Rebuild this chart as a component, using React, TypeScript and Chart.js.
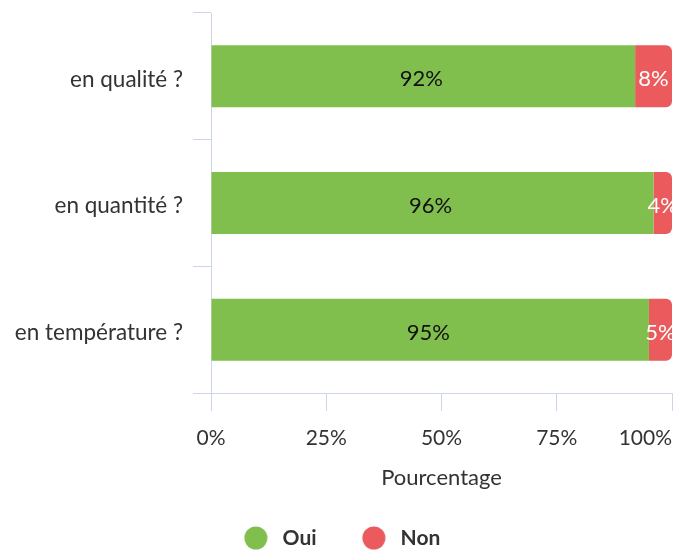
import { useEffect, useRef } from "react";
import { Chart, registerables } from "chart.js";

Chart.register(...registerables);

const categories = ["en qualité ?", "en quantité ?", "en température ?"];
const seriesNames = ["Oui", "Non"];
const ouiValues = [92, 96, 95];
const nonValues = [8, 4, 5];
const xTickValues = [0, 25, 50, 75, 100];
const axisTitle = "Pourcentage";

const FONT = "Lato, 'Open Sans', sans-serif";
const TEXT = "#333333";
const GRID = "#ccd6eb";
const GREEN = "#80bf4d";
const RED = "#eb5a5c";
const seriesColors = [GREEN, RED];

function makeMarker(color: string) {
  const c = document.createElement("canvas");
  c.width = 32;
  c.height = 24;
  const g = c.getContext("2d") as CanvasRenderingContext2D;
  g.fillStyle = color;
  g.beginPath();
  g.arc(20, 12, 11.5, 0, Math.PI * 2);
  g.fill();
  return c;
}

const dataLabelsPlugin = {
  id: "dataLabels",
  afterDatasetsDraw(chart: any) {
    const ctx = chart.ctx;
    ctx.save();
    ctx.font = `22px ${FONT}`;
    ctx.textAlign = "center";
    ctx.textBaseline = "middle";
    chart.data.datasets.forEach((ds: any, i: number) => {
      const meta = chart.getDatasetMeta(i);
      if (meta.hidden) return;
      meta.data.forEach((el: any, j: number) => {
        const { x, y, base } = el.getProps(["x", "y", "base"], true);
        ctx.fillStyle = i === 0 ? "#111111" : "#ffffff";
        ctx.fillText(ds.data[j] + "%", (x + base) / 2 - (i === 0 ? 2 : 0), y + 3);
      });
    });
    ctx.restore();
  },
};

const xTickLabelsPlugin = {
  id: "xTickLabels",
  afterDraw(chart: any) {
    const scale = chart.scales.x;
    const ctx = chart.ctx;
    ctx.save();
    ctx.font = `21px ${FONT}`;
    ctx.fillStyle = TEXT;
    ctx.textAlign = "left";
    ctx.textBaseline = "middle";
    xTickValues.forEach((v) => {
      const label = v + "%";
      const w = ctx.measureText(label).width;
      let left = scale.getPixelForValue(v) - w / 2;
      left = Math.min(left, chart.chartArea.right - w);
      left = Math.max(left, 0);
      ctx.fillText(label, left, scale.top + 45);
    });
    ctx.restore();
  },
};

function ChartView() {
  const ref = useRef<HTMLCanvasElement | null>(null);
  useEffect(() => {
    document.body.style.margin = "0";
    const markers = seriesColors.map(makeMarker);
    const chart = new Chart(ref.current as HTMLCanvasElement, {
      type: "bar",
      data: {
        labels: categories,
        datasets: [
          {
            label: seriesNames[0],
            data: ouiValues,
            backgroundColor: GREEN,
            borderWidth: 0,
            borderRadius: 0,
            barPercentage: 0.49,
            categoryPercentage: 1,
          },
          {
            label: seriesNames[1],
            data: nonValues,
            backgroundColor: RED,
            borderWidth: 0,
            borderRadius: { topLeft: 0, bottomLeft: 0, topRight: 6, bottomRight: 6 },
            borderSkipped: false,
            barPercentage: 0.49,
            categoryPercentage: 1,
          },
        ],
      },
      options: {
        indexAxis: "y",
        animation: false,
        responsive: false,
        layout: { padding: { top: 13, right: 4, left: 0, bottom: 0 } },
        scales: {
          x: {
            stacked: true,
            min: 0,
            max: 100,
            afterFit: (s: any) => {
              s.paddingRight = 4;
              s.paddingLeft = 0;
              s.height = 101.5;
            },
            afterBuildTicks: (s: any) => {
              s.ticks = xTickValues.map((v) => ({ value: v }));
            },
            ticks: {
              color: "transparent",
              padding: 14,
              font: { family: FONT, size: 21 },
              callback: (v: any) => v + "%",
            },
            grid: {
              drawOnChartArea: false,
              color: GRID,
              tickLength: 18,
              lineWidth: 1,
            },
            border: { display: true, color: GRID },
            title: {
              display: true,
              text: axisTitle,
              color: TEXT,
              font: { family: FONT, size: 22, lineHeight: 1 },
              padding: { top: 0, bottom: 5.5 },
            },
          },
          y: {
            stacked: true,
            afterFit: (s: any) => {
              s.width = 211;
              s.paddingTop = 0;
              s.paddingBottom = 0;
            },
            ticks: {
              color: TEXT,
              padding: 10,
              labelOffset: 3,
              font: { family: FONT, size: 22.5 },
            },
            grid: {
              drawOnChartArea: false,
              color: GRID,
              tickLength: 18,
              offset: true,
            },
            border: { display: true, color: GRID },
          },
        },
        plugins: {
          legend: {
            position: "bottom",
            maxHeight: 56.5,
            labels: {
              usePointStyle: true,
              boxHeight: 16,
              pointStyleWidth: 40.5,
              padding: 33,
              color: TEXT,
              font: { family: FONT, size: 21, weight: "bold" },
              generateLabels: (c: any) =>
                Chart.defaults.plugins.legend.labels
                  .generateLabels(c)
                  .map((it: any, i: number) => ({ ...it, pointStyle: markers[i] })),
            },
          },
          tooltip: { enabled: false },
        },
      },
      plugins: [dataLabelsPlugin, xTickLabelsPlugin],
    });
    return () => chart.destroy();
  }, []);
  return <canvas ref={ref} width={676} height={551} style={{ display: "block" }} />;
}

export default function App() {
  return <ChartView />;
}
